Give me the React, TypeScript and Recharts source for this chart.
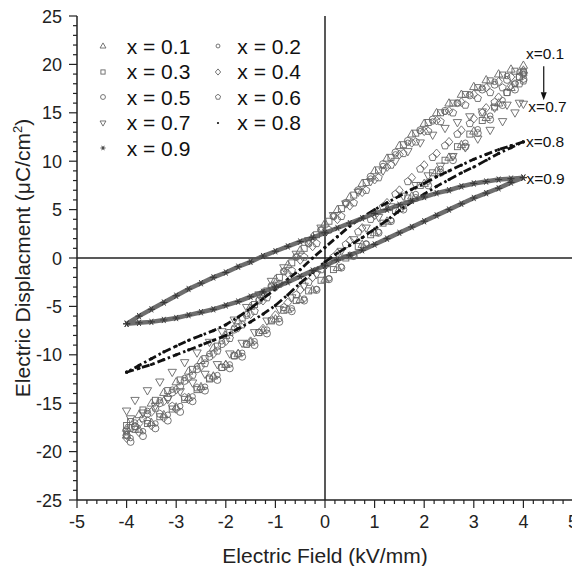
import React from 'react';
import {
  ScatterChart, Scatter, XAxis, YAxis, ReferenceLine, ReferenceDot, Legend,
} from 'recharts';

// electric field sampling (kV/mm); upper branch runs +4 -> -4, lower branch -4 -> +4
// three staggered sampling grids so the overlapping loops fill the band
const fieldDownA = [4, 3.75, 3.5, 3.25, 3, 2.75, 2.5, 2.25, 2, 1.75, 1.5, 1.25, 1, 0.75, 0.5, 0.25, 0,
  -0.25, -0.5, -0.75, -1, -1.25, -1.5, -1.75, -2, -2.25, -2.5, -2.75, -3, -3.25, -3.5, -3.75, -4];
const fieldDownB = [3.92, 3.67, 3.42, 3.17, 2.92, 2.67, 2.42, 2.17, 1.92, 1.67, 1.42, 1.17, 0.92, 0.67, 0.42, 0.17, -0.08,
  -0.33, -0.58, -0.83, -1.08, -1.33, -1.58, -1.83, -2.08, -2.33, -2.58, -2.83, -3.08, -3.33, -3.58, -3.83, -4];
const fieldDownC = [3.83, 3.58, 3.33, 3.08, 2.83, 2.58, 2.33, 2.08, 1.83, 1.58, 1.33, 1.08, 0.83, 0.58, 0.33, 0.08, -0.17,
  -0.42, -0.67, -0.92, -1.17, -1.42, -1.67, -1.92, -2.17, -2.42, -2.67, -2.92, -3.17, -3.42, -3.67, -3.92, -4];
const fieldUpA = fieldDownA.map((e) => -e);
const fieldUpB = fieldDownB.map((e) => -e);
const fieldUpC = fieldDownC.map((e) => -e);

// displacement (uC/cm2)
const upper01 = [19.9, 19.5, 19.0, 18.4, 17.7, 16.9, 16.0, 15.0, 13.9, 12.8, 11.6, 10.3, 9.0, 7.7, 6.3, 5.0, 3.6, 2.2, 0.8, -0.7, -2.2, -3.6, -5.0, -6.5, -8.0, -9.3, -10.6, -11.7, -12.8, -13.9, -15.0, -16.2, -17.6];
const lower01 = [-18.3, -17.7, -17.0, -16.2, -15.4, -14.4, -13.3, -12.2, -11.0, -9.9, -8.7, -7.5, -6.3, -5.3, -4.3, -3.3, -2.2, -1.0, 0.2, 1.4, 2.6, 3.8, 5.1, 6.4, 7.7, 9.0, 10.4, 11.7, 13.1, 14.5, 16.0, 17.6, 19.4];

const upper02 = [19.2, 18.8, 18.2, 17.6, 16.9, 16.0, 15.1, 14.1, 13.1, 11.9, 10.7, 9.5, 8.2, 6.9, 5.6, 4.3, 2.9, 1.5, 0.1, -1.4, -2.9, -4.3, -5.8, -7.2, -8.6, -9.9, -11.2, -12.4, -13.6, -14.7, -15.8, -17.0, -18.0];
const lower02 = [-18.6, -17.9, -17.1, -16.2, -15.3, -14.3, -13.3, -12.1, -11.0, -9.8, -8.6, -7.4, -6.3, -5.2, -4.2, -3.2, -2.1, -0.9, 0.3, 1.5, 2.7, 3.9, 5.3, 6.6, 7.9, 9.2, 10.5, 11.9, 13.3, 14.7, 16.3, 18.0, 19.0];

const upper03 = [19.3, 18.9, 18.3, 17.6, 16.9, 16.0, 15.0, 14.0, 12.9, 11.7, 10.4, 9.1, 7.8, 6.5, 5.1, 3.8, 2.4, 1.0, -0.5, -2.0, -3.4, -4.8, -6.2, -7.7, -9.1, -10.4, -11.5, -12.6, -13.7, -14.7, -15.7, -16.9, -17.3];
const lower03 = [-17.7, -17.1, -16.4, -15.6, -14.6, -13.6, -12.5, -11.3, -10.1, -8.9, -7.7, -6.5, -5.4, -4.4, -3.4, -2.3, -1.2, 0.0, 1.2, 2.4, 3.6, 4.9, 6.2, 7.5, 8.8, 10.1, 11.5, 12.8, 14.2, 15.6, 17.1, 18.7, 19.2];

const upper04 = [19.1, 18.7, 18.2, 17.6, 16.9, 16.1, 15.2, 14.2, 13.1, 11.9, 10.7, 9.4, 8.1, 6.8, 5.4, 4.0, 2.6, 1.2, -0.2, -1.6, -3.0, -4.4, -5.8, -7.2, -8.6, -9.9, -11.2, -12.4, -13.6, -14.8, -15.9, -17.1, -18.3];
const lower04 = [-18.6, -18.0, -17.3, -16.5, -15.6, -14.6, -13.5, -12.3, -11.1, -9.9, -8.6, -7.3, -5.9, -4.6, -3.3, -2.0, -0.8, 0.5, 1.8, 3.1, 4.4, 5.7, 7.0, 8.3, 9.6, 10.8, 12.0, 13.2, 14.4, 15.5, 16.6, 17.8, 18.9];

const upper05 = [18.7, 18.4, 17.9, 17.4, 16.8, 16.0, 15.2, 14.3, 13.2, 12.1, 10.9, 9.7, 8.4, 7.0, 5.7, 4.3, 2.9, 1.5, 0.1, -1.4, -2.9, -4.4, -5.9, -7.4, -8.9, -10.2, -11.5, -12.7, -13.9, -15.0, -16.1, -17.4, -18.3];
const lower05 = [-19.0, -18.4, -17.6, -16.8, -15.9, -14.8, -13.7, -12.6, -11.4, -10.2, -9.0, -7.8, -6.6, -5.5, -4.4, -3.3, -2.2, -1.0, 0.2, 1.4, 2.6, 3.8, 5.0, 6.2, 7.5, 8.8, 10.1, 11.5, 12.9, 14.3, 15.8, 17.4, 18.5];

const upper06 = [18.0, 17.6, 17.1, 16.5, 15.8, 15.0, 14.1, 13.1, 12.0, 10.8, 9.6, 8.3, 7.0, 5.7, 4.3, 2.9, 1.5, 0.1, -1.3, -2.7, -4.1, -5.5, -6.9, -8.3, -9.6, -10.9, -12.1, -13.3, -14.4, -15.5, -16.6, -17.6, -17.8];
const lower06 = [-17.4, -16.8, -16.1, -15.3, -14.4, -13.4, -12.4, -11.3, -10.1, -8.9, -7.7, -6.4, -5.1, -3.8, -2.5, -1.2, 0.1, 1.4, 2.7, 4.0, 5.3, 6.6, 7.9, 9.2, 10.4, 11.6, 12.8, 13.9, 15.0, 16.1, 17.1, 18.0, 18.3];

const upper07 = [16.0, 15.8, 15.5, 15.1, 14.6, 14.0, 13.4, 12.7, 11.9, 11.0, 10.0, 9.0, 7.9, 6.8, 5.6, 4.4, 3.1, 1.8, 0.4, -1.0, -2.4, -3.8, -5.1, -6.4, -7.6, -8.7, -9.8, -10.8, -11.8, -12.8, -13.7, -14.7, -15.8];
const lower07 = [-16.6, -16.0, -15.3, -14.6, -13.8, -12.9, -12.0, -11.0, -9.9, -8.8, -7.7, -6.5, -5.3, -4.1, -2.9, -1.7, -0.5, 0.7, 1.9, 3.1, 4.2, 5.3, 6.4, 7.5, 8.5, 9.5, 10.5, 11.4, 12.3, 13.2, 14.1, 15.0, 15.9];

const upper08 = [12.0, 11.6, 11.2, 10.7, 10.2, 9.6, 9.0, 8.4, 7.7, 7.1, 6.4, 5.7, 5.0, 4.2, 3.3, 2.2, 1.1, 0.0, -1.2, -2.2, -3.2, -4.2, -5.2, -6.1, -6.9, -7.5, -8.0, -8.5, -9.1, -9.7, -10.4, -11.1, -11.8];
const lower08 = [-11.8, -11.4, -11.0, -10.5, -10.0, -9.5, -9.0, -8.5, -8.0, -7.3, -6.6, -5.8, -4.9, -3.8, -2.6, -1.5, -0.4, 0.5, 1.3, 2.1, 3.0, 3.9, 4.9, 5.8, 6.6, 7.4, 8.1, 8.8, 9.4, 10.1, 10.8, 11.4, 12.0];

const upper09 = [8.3, 8.2, 8.1, 7.9, 7.7, 7.4, 7.0, 6.7, 6.3, 5.9, 5.5, 5.0, 4.6, 4.1, 3.6, 3.1, 2.6, 2.1, 1.7, 1.2, 0.7, 0.2, -0.4, -0.9, -1.5, -2.0, -2.6, -3.2, -3.9, -4.6, -5.3, -6.0, -6.8];
const lower09 = [-6.8, -6.7, -6.6, -6.4, -6.2, -5.9, -5.6, -5.3, -4.9, -4.5, -4.0, -3.5, -3.0, -2.5, -1.9, -1.3, -0.8, -0.2, 0.3, 0.8, 1.4, 2.0, 2.6, 3.2, 3.8, 4.4, 5.0, 5.6, 6.2, 6.7, 7.2, 7.8, 8.3];

const xMajorTicks = [-5, -4, -3, -2, -1, 0, 1, 2, 3, 4, 5];
const yMajorTicks = [-25, -20, -15, -10, -5, 0, 5, 10, 15, 20, 25];
const xTicks = xMajorTicks.flatMap((m) => (m < 5 ? [m, m + 0.2, m + 0.4, m + 0.6, m + 0.8].map((v) => Math.round(v * 10) / 10) : [m]));
const yTicks = yMajorTicks.flatMap((m) => (m < 25 ? [m, m + 1, m + 2, m + 3, m + 4] : [m]));

const series = [
  { name: 'x = 0.1', kind: 'triUp', down: fieldDownA, up: fieldUpA, upper: upper01, lower: lower01 },
  { name: 'x = 0.2', kind: 'circleS', down: fieldDownB, up: fieldUpB, upper: upper02, lower: lower02 },
  { name: 'x = 0.3', kind: 'square', down: fieldDownC, up: fieldUpC, upper: upper03, lower: lower03 },
  { name: 'x = 0.4', kind: 'diamond', down: fieldDownA, up: fieldUpA, upper: upper04, lower: lower04 },
  { name: 'x = 0.5', kind: 'circleL', down: fieldDownB, up: fieldUpB, upper: upper05, lower: lower05 },
  { name: 'x = 0.6', kind: 'pentagon', down: fieldDownC, up: fieldUpC, upper: upper06, lower: lower06 },
  { name: 'x = 0.7', kind: 'triDown', down: fieldDownB, up: fieldUpB, upper: upper07, lower: lower07 },
  { name: 'x = 0.8', kind: 'dot', down: fieldDownA, up: fieldUpA, upper: upper08, lower: lower08 },
  { name: 'x = 0.9', kind: 'star', down: fieldDownA, up: fieldUpA, upper: upper09, lower: lower09 },
];

const loop = (down: number[], up: number[], upper: number[], lower: number[]) => [
  ...down.map((e, i) => ({ x: e, y: upper[i] })),
  ...up.map((e, i) => ({ x: e, y: lower[i] })),
].filter((p) => p.y !== undefined);

const FONT = "'Liberation Sans', Arial, sans-serif";
const AXIS = '#222';

function Marker({ kind, cx, cy, s = 1 }: any) {
  const st = { fill: 'none', stroke: '#666', strokeWidth: 0.9 };
  switch (kind) {
    case 'triUp':
      return <polygon points={`${cx},${cy - 4.4 * s} ${cx + 4.2 * s},${cy + 2.9 * s} ${cx - 4.2 * s},${cy + 2.9 * s}`} {...st} />;
    case 'triDown':
      return <polygon points={`${cx},${cy + 4.4 * s} ${cx + 4.2 * s},${cy - 2.9 * s} ${cx - 4.2 * s},${cy - 2.9 * s}`} {...st} />;
    case 'square':
      return <rect x={cx - 3 * s} y={cy - 3 * s} width={6 * s} height={6 * s} {...st} />;
    case 'circleS':
      return <circle cx={cx} cy={cy} r={2.8 * s} {...st} />;
    case 'circleL':
      return <circle cx={cx} cy={cy} r={3.5 * s} {...st} />;
    case 'diamond':
      return <polygon points={`${cx},${cy - 4.4 * s} ${cx + 3.8 * s},${cy} ${cx},${cy + 4.4 * s} ${cx - 3.8 * s},${cy}`} {...st} />;
    case 'pentagon': {
      const pts = [0, 1, 2, 3, 4].map((k) => {
        const a = (-90 + 72 * k) * Math.PI / 180;
        return `${cx + 3.9 * s * Math.cos(a)},${cy + 3.9 * s * Math.sin(a)}`;
      }).join(' ');
      return <polygon points={pts} {...st} />;
    }
    case 'dot':
      return <circle cx={cx} cy={cy} r={1.6 * s} fill="#111" />;
    case 'star': {
      const r = 3.6 * s;
      return (
        <g stroke="#333" strokeWidth={0.9}>
          <line x1={cx - r} y1={cy} x2={cx + r} y2={cy} />
          <line x1={cx - r * 0.5} y1={cy - r * 0.87} x2={cx + r * 0.5} y2={cy + r * 0.87} />
          <line x1={cx - r * 0.5} y1={cy + r * 0.87} x2={cx + r * 0.5} y2={cy - r * 0.87} />
        </g>
      );
    }
    default:
      return null;
  }
}

const isMajorX = (v: number) => Math.abs(v - Math.round(v)) < 1e-6;
const isMajorY = (v: number) => Math.abs(v % 5) < 1e-6;

function BottomTick({ x, y, payload }: any) {
  const major = isMajorX(payload.value);
  return (
    <g>
      <line x1={x} x2={x} y1={y} y2={y + (major ? 8 : 4)} stroke={AXIS} strokeWidth={1.2} />
      {major && <text x={x} y={y + 28} textAnchor="middle" fontSize={18} fill="#222">{payload.value}</text>}
    </g>
  );
}
function TopTick({ x, y, payload }: any) {
  const major = isMajorX(payload.value);
  return <line x1={x} x2={x} y1={y} y2={y + (major ? 8 : 4)} stroke={AXIS} strokeWidth={1.2} />;
}
function LeftTick({ x, y, payload }: any) {
  const major = isMajorY(payload.value);
  return (
    <g>
      <line x1={x - (major ? 8 : 4)} x2={x} y1={y} y2={y} stroke={AXIS} strokeWidth={1.2} />
      {major && <text x={x - 15} y={y + 6.5} textAnchor="end" fontSize={18} fill="#222">{payload.value}</text>}
    </g>
  );
}
function RightTick({ x, y, payload }: any) {
  const major = isMajorY(payload.value);
  return <line x1={x - (major ? 8 : 4)} x2={x} y1={y} y2={y} stroke={AXIS} strokeWidth={1.2} />;
}

function YTitle({ viewBox }: any) {
  const cy = viewBox.y + viewBox.height / 2;
  return (
    <text transform={`translate(22, ${cy}) rotate(-90)`} textAnchor="middle" fontSize={21} fill="#222">
      <tspan>Electric Displacment (μC/cm</tspan>
      <tspan fontSize={13} dy={-8}>2</tspan>
      <tspan dy={8}>)</tspan>
    </text>
  );
}
function XTitle({ viewBox }: any) {
  return (
    <text x={viewBox.x + viewBox.width / 2} y={viewBox.y + 63} textAnchor="middle" fontSize={21} fill="#222">
      Electric Field (kV/mm)
    </text>
  );
}

function LegendBox() {
  const rowH = 25.5;
  const cols = [{ m: 14.7, t: 38.7 }, { m: 130.3, t: 149.3 }];
  return (
    <div style={{ position: 'relative', width: 260, height: 130, fontFamily: FONT }}>
      {series.map((s, i) => {
        const col = cols[i % 2];
        const c = rowH / 2 + Math.floor(i / 2) * rowH;
        return (
          <React.Fragment key={s.name}>
            <svg width={12} height={12} style={{ position: 'absolute', left: col.m - 6, top: c - 6 }}>
              <Marker kind={s.kind} cx={6} cy={6} s={0.7} />
            </svg>
            <span style={{ position: 'absolute', left: col.t, top: c - rowH / 2, lineHeight: `${rowH}px`, fontSize: 21, whiteSpace: 'nowrap', color: '#111' }}>
              {s.name}
            </span>
          </React.Fragment>
        );
      })}
    </div>
  );
}

const note = (text: string) => (p: any) => (
  <text x={p.cx} y={p.cy} dominantBaseline="central" fontSize={15.5} fill="#111">{text}</text>
);

export default function App() {
  return (
    <div style={{ width: 572, height: 558, fontFamily: FONT }}>
      <ScatterChart width={572} height={558} margin={{ top: 8, right: 7, bottom: 0, left: 0 }}>
        <XAxis type="number" dataKey="x" domain={[-5, 5]} ticks={xTicks} interval={0} allowDataOverflow
          height={66} tickSize={0} tickMargin={0} tickLine={false} tick={(p: any) => <BottomTick {...p} />}
          axisLine={{ stroke: AXIS, strokeWidth: 1.5 }} label={(p: any) => <XTitle {...p} />} />
        <XAxis xAxisId="top" orientation="top" type="number" domain={[-5, 5]} ticks={xTicks} interval={0} allowDataOverflow
          height={0} tickSize={0} tickMargin={0} tickLine={false} tick={(p: any) => <TopTick {...p} />}
          axisLine={{ stroke: AXIS, strokeWidth: 1.5 }} />
        <YAxis type="number" dataKey="y" domain={[-25, 25]} ticks={yTicks} interval={0} allowDataOverflow
          width={69} tickSize={0} tickMargin={0} tickLine={false} tick={(p: any) => <LeftTick {...p} />}
          axisLine={{ stroke: AXIS, strokeWidth: 1.5 }} label={(p: any) => <YTitle {...p} />} />
        <YAxis yAxisId="right" orientation="right" type="number" domain={[-25, 25]} ticks={yTicks} interval={0} allowDataOverflow
          width={0} tickSize={0} tickMargin={0} tickLine={false} tick={(p: any) => <RightTick {...p} />}
          axisLine={{ stroke: AXIS, strokeWidth: 1.5 }} />

        <ReferenceLine x={0} stroke={AXIS} strokeWidth={1.5} />
        <ReferenceLine y={0} stroke={AXIS} strokeWidth={1.5} />

        {series.map((s) => {
          const extra: any = {};
          if (s.kind === 'dot') extra.line = { stroke: '#111', strokeWidth: 2.8, strokeDasharray: '8 3 2.5 3' };
          if (s.kind === 'star') extra.line = { stroke: '#555', strokeWidth: 4.5, strokeOpacity: 0.85 };
          return (
            <Scatter key={s.name} name={s.name} data={loop(s.down, s.up, s.upper, s.lower)} isAnimationActive={false}
              shape={(p: any) => <Marker kind={s.kind} cx={p.cx} cy={p.cy} />} {...extra} />
          );
        })}

        <ReferenceDot x={4.05} y={21.1} r={0} shape={note('x=0.1')} />
        <ReferenceDot x={4.1} y={15.6} r={0} shape={note('x=0.7')} />
        <ReferenceDot x={4.05} y={12.0} r={0} shape={note('x=0.8')} />
        <ReferenceDot x={4.06} y={8.2} r={0} shape={note('x=0.9')} />
        <ReferenceLine segment={[{ x: 4.41, y: 19.8 }, { x: 4.41, y: 17.1 }]} stroke="#111" strokeWidth={1.2} />
        <ReferenceDot x={4.41} y={16.3} r={0}
          shape={(p: any) => <polygon points={`${p.cx - 3},${p.cy - 8} ${p.cx + 3},${p.cy - 8} ${p.cx},${p.cy}`} fill="#111" />} />

        <Legend layout="vertical" align="center" verticalAlign="middle" content={() => <LegendBox />}
          wrapperStyle={{ left: 80, top: 25.5, width: 260, height: 130 }} />
      </ScatterChart>
    </div>
  );
}
